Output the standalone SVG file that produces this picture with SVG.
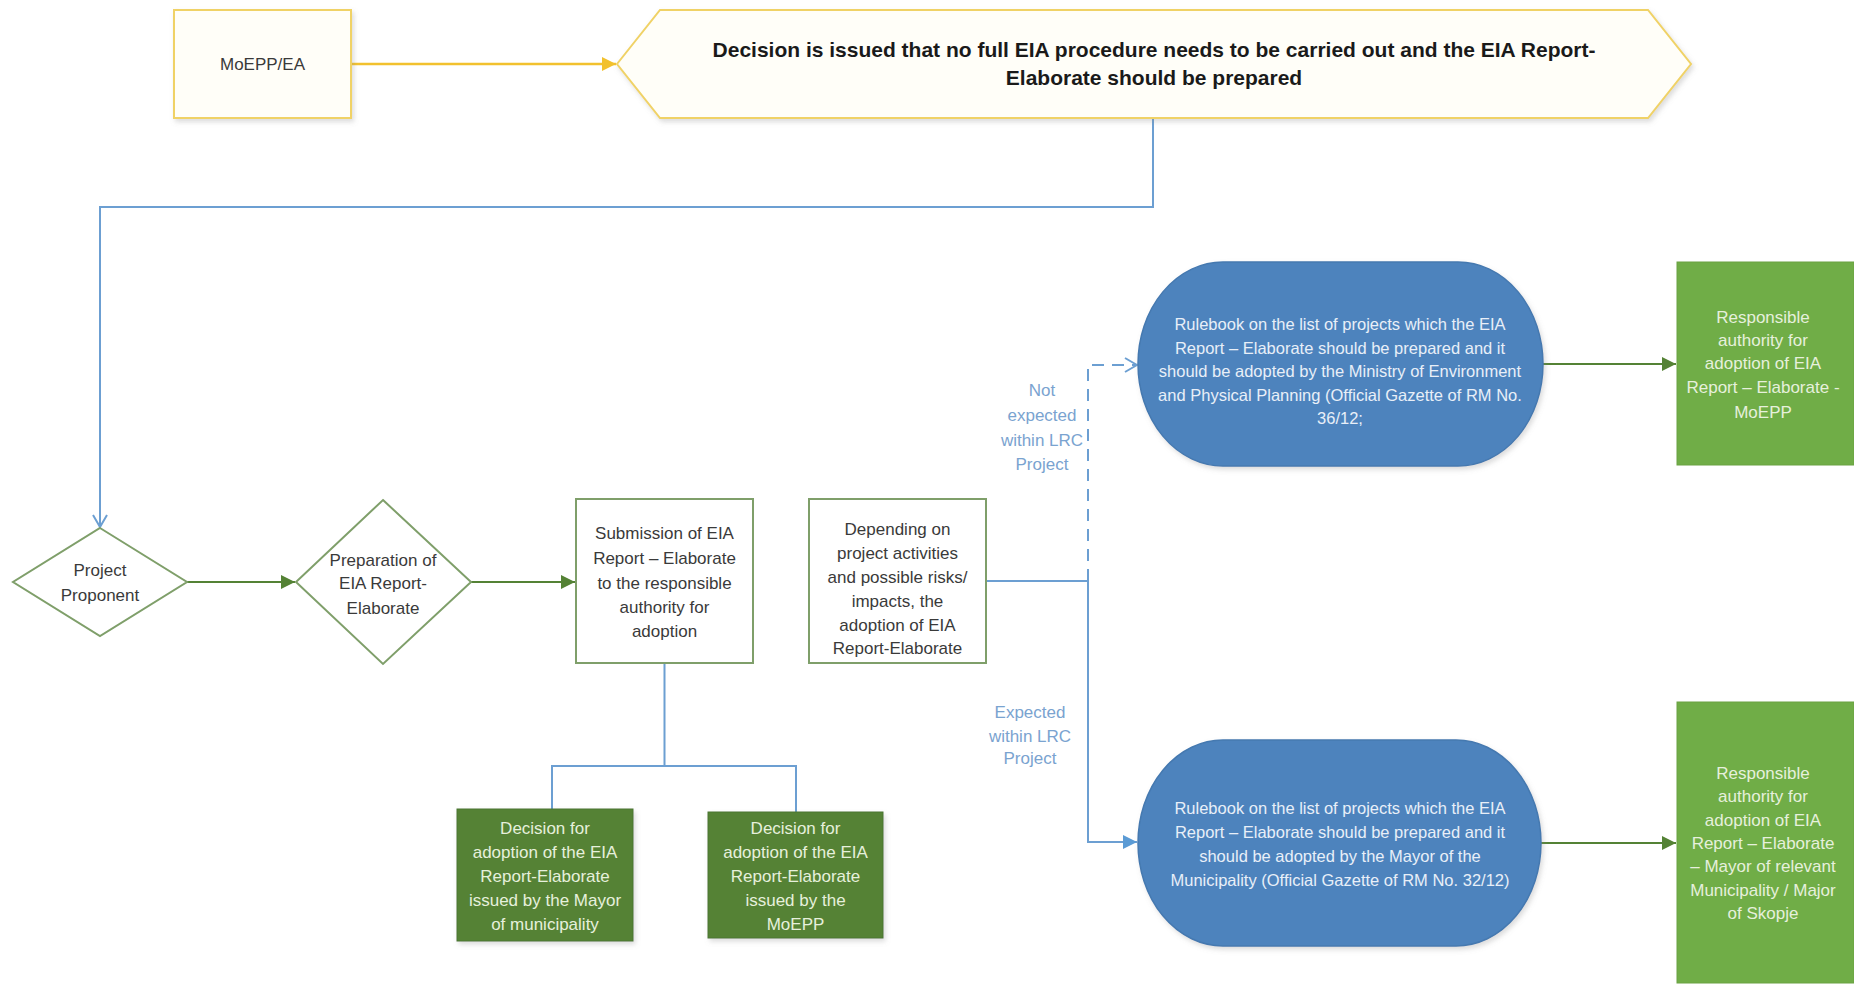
<svg xmlns="http://www.w3.org/2000/svg" width="1854" height="984" viewBox="0 0 1854 984">
<style>
.t{font-family:"Liberation Sans",Arial,sans-serif;font-size:17px;text-anchor:middle;fill:#3a3a3a}
.tb{font-family:"Liberation Sans",Arial,sans-serif;font-size:21px;font-weight:bold;text-anchor:middle;fill:#1a1a1a}
.tw{font-family:"Liberation Sans",Arial,sans-serif;font-size:17px;text-anchor:middle;fill:#e6f0dc}
.te{font-family:"Liberation Sans",Arial,sans-serif;font-size:16.5px;text-anchor:middle;fill:#e8eff8}
.tl{font-family:"Liberation Sans",Arial,sans-serif;font-size:17px;text-anchor:middle;fill:#7aa3d0}
.gbox{fill:#ffffff;stroke:#7f9f6a;stroke-width:2}
.ybox{fill:#fffef8;stroke:#f0d266;stroke-width:2;filter:url(#sh)}
.dk{fill:#548235;stroke:#4a7530;stroke-width:1;filter:url(#sh)}
.lt{fill:#70ad47;stroke:#6aa242;stroke-width:1}
.ell{fill:#4d83bd;stroke:#4579b0;stroke-width:1.5;filter:url(#sh)}
.cb{fill:none;stroke:#6c9fd2;stroke-width:2}
.cg{fill:none;stroke:#548235;stroke-width:2}
.cy{fill:none;stroke:#f2c12e;stroke-width:2.5}
</style>
<defs>
<filter id="sh" x="-10%" y="-10%" width="125%" height="130%"><feDropShadow dx="2" dy="3" stdDeviation="2.5" flood-color="#8a8a8a" flood-opacity="0.3"/></filter>
<marker id="ay" viewBox="0 0 14 14" refX="14" refY="7" markerWidth="14" markerHeight="14" markerUnits="userSpaceOnUse" orient="auto"><path d="M0,0 L14,7 L0,14 Z" fill="#f2c12e"/></marker>
<marker id="ag" viewBox="0 0 14 14" refX="14" refY="7" markerWidth="14" markerHeight="14" markerUnits="userSpaceOnUse" orient="auto"><path d="M0,0 L14,7 L0,14 Z" fill="#548235"/></marker>
<marker id="ab" viewBox="0 0 14 14" refX="14" refY="7" markerWidth="14" markerHeight="14" markerUnits="userSpaceOnUse" orient="auto"><path d="M0,0 L14,7 L0,14 Z" fill="#5b9bd5"/></marker>
<marker id="ao" viewBox="0 0 14 16" refX="13" refY="8" markerWidth="14" markerHeight="16" markerUnits="userSpaceOnUse" orient="auto"><path d="M1,1 L13,8 L1,15" fill="none" stroke="#6c9fd2" stroke-width="2"/></marker>
</defs>

<g id="connectors">
<path class="cy" d="M351,64 H616" marker-end="url(#ay)"/>
<path class="cb" d="M1153,118 V207 H100 V527" marker-end="url(#ao)" stroke="#86afd8"/>
<path class="cg" d="M187,582 H295" marker-end="url(#ag)"/>
<path class="cg" d="M471,582 H575" marker-end="url(#ag)"/>
<path class="cb" d="M986,581 H1088 V842 H1137" marker-end="url(#ab)"/>
<path class="cb" d="M1088,581 V365 H1137" stroke-dasharray="12,8" marker-end="url(#ao)"/>
<path class="cb" d="M664.5,663 V766 M552,809 V766 H796 V812" stroke="#6a8cb8"/>
<path class="cg" d="M1543,364 H1676" marker-end="url(#ag)"/>
<path class="cg" d="M1541,843 H1676" marker-end="url(#ag)"/>
</g>

<g id="n-moepp-ea">
<rect class="ybox" x="174" y="10" width="177" height="108"/>
<text class="t" x="262.5" y="70">MoEPP/EA</text>
</g>

<g id="n-decision-issued">
<path class="ybox" d="M617,64 L660,10 H1648 L1691,64 L1648,118 H660 Z"/>
<text class="tb" x="1154" y="57">Decision is issued that no full EIA procedure needs to be carried out and the EIA Report-</text>
<text class="tb" x="1154" y="85">Elaborate should be prepared</text>
</g>

<g id="n-project-proponent">
<path class="gbox" d="M100,528 L187,582 L100,636 L13,582 Z"/>
<text class="t" x="100" y="576">Project</text>
<text class="t" x="100" y="601">Proponent</text>
</g>

<g id="n-preparation">
<path class="gbox" d="M383,500 L471,582 L383,664 L296,582 Z"/>
<text class="t" x="383" y="566">Preparation of</text>
<text class="t" x="383" y="589">EIA Report-</text>
<text class="t" x="383" y="614">Elaborate</text>
</g>

<g id="n-submission">
<rect class="gbox" x="576" y="499" width="177" height="164"/>
<text class="t" x="664.5" y="539">Submission of EIA</text>
<text class="t" x="664.5" y="564">Report – Elaborate</text>
<text class="t" x="664.5" y="589">to the responsible</text>
<text class="t" x="664.5" y="613">authority for</text>
<text class="t" x="664.5" y="637">adoption</text>
</g>

<g id="n-depending">
<rect class="gbox" x="809" y="499" width="177" height="164"/>
<text class="t" x="897.5" y="535">Depending on</text>
<text class="t" x="897.5" y="559">project activities</text>
<text class="t" x="897.5" y="583">and possible risks/</text>
<text class="t" x="897.5" y="607">impacts, the</text>
<text class="t" x="897.5" y="631">adoption of EIA</text>
<text class="t" x="897.5" y="654">Report-Elaborate</text>
</g>

<g id="n-decision-mayor">
<rect class="dk" x="457" y="809" width="176" height="132"/>
<text class="tw" x="545" y="834">Decision for</text>
<text class="tw" x="545" y="858">adoption of the EIA</text>
<text class="tw" x="545" y="882">Report-Elaborate</text>
<text class="tw" x="545" y="906">issued by the Mayor</text>
<text class="tw" x="545" y="930">of municipality</text>
</g>

<g id="n-decision-moepp">
<rect class="dk" x="708" y="812" width="175" height="126"/>
<text class="tw" x="795.5" y="834">Decision for</text>
<text class="tw" x="795.5" y="858">adoption of the EIA</text>
<text class="tw" x="795.5" y="882">Report-Elaborate</text>
<text class="tw" x="795.5" y="906">issued by the</text>
<text class="tw" x="795.5" y="930">MoEPP</text>
</g>

<g id="n-label-not-expected">
<text class="tl" x="1042" y="396">Not</text>
<text class="tl" x="1042" y="421">expected</text>
<text class="tl" x="1042" y="446">within LRC</text>
<text class="tl" x="1042" y="470">Project</text>
</g>

<g id="n-label-expected">
<text class="tl" x="1030" y="718">Expected</text>
<text class="tl" x="1030" y="742">within LRC</text>
<text class="tl" x="1030" y="764">Project</text>
</g>

<g id="n-rulebook-moepp">
<path class="ell" d="M1223,262 H1458 A85,102 0 0 1 1458,466 H1223 A85,102 0 0 1 1223,262 Z"/>
<text class="te" x="1340" y="330">Rulebook on the list of projects which the EIA</text>
<text class="te" x="1340" y="354">Report – Elaborate should be prepared and it</text>
<text class="te" x="1340" y="377">should be adopted by the Ministry of Environment</text>
<text class="te" x="1340" y="401">and Physical Planning (Official Gazette of RM No.</text>
<text class="te" x="1340" y="424">36/12;</text>
</g>

<g id="n-rulebook-mayor">
<path class="ell" d="M1223,740 H1456 A85,103 0 0 1 1456,946 H1223 A85,103 0 0 1 1223,740 Z"/>
<text class="te" x="1340" y="814">Rulebook on the list of projects which the EIA</text>
<text class="te" x="1340" y="838">Report – Elaborate should be prepared and it</text>
<text class="te" x="1340" y="862">should be adopted by the Mayor of the</text>
<text class="te" x="1340" y="886">Municipality (Official Gazette of RM No. 32/12)</text>
</g>

<g id="n-authority-moepp">
<rect class="lt" x="1677" y="262" width="177" height="203"/>
<text class="tw" x="1763" y="323">Responsible</text>
<text class="tw" x="1763" y="346">authority for</text>
<text class="tw" x="1763" y="369">adoption of EIA</text>
<text class="tw" x="1763" y="393">Report – Elaborate -</text>
<text class="tw" x="1763" y="418">MoEPP</text>
</g>

<g id="n-authority-mayor">
<rect class="lt" x="1677" y="702" width="177" height="281"/>
<text class="tw" x="1763" y="779">Responsible</text>
<text class="tw" x="1763" y="802">authority for</text>
<text class="tw" x="1763" y="826">adoption of EIA</text>
<text class="tw" x="1763" y="849">Report – Elaborate</text>
<text class="tw" x="1763" y="872">– Mayor of relevant</text>
<text class="tw" x="1763" y="896">Municipality / Major</text>
<text class="tw" x="1763" y="919">of Skopje</text>
</g>
</svg>
